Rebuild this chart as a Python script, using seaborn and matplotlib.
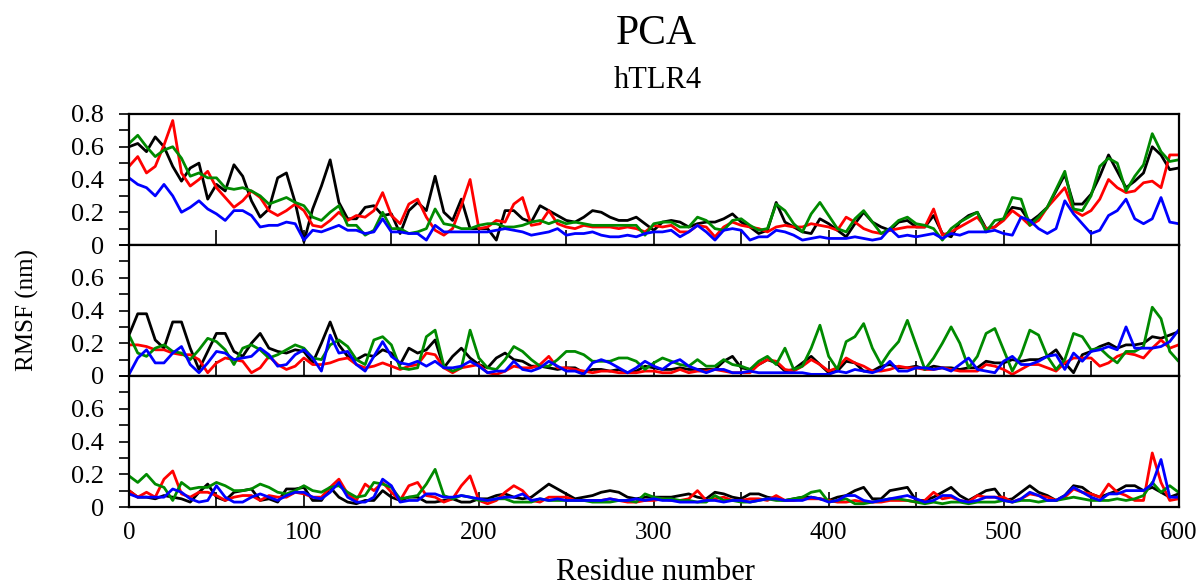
import numpy as np
import pandas as pd
import matplotlib
matplotlib.use("Agg")
import matplotlib.pyplot as plt
import seaborn as sns
from matplotlib.ticker import MultipleLocator, FuncFormatter

# ---------------- data (RMSF in nm, sampled every 5 residues) ----------------
residues = np.arange(0, 601, 5)

top_black = [0.6,0.62,0.57,0.66,0.6,0.48,0.39,0.47,0.5,0.28,0.37,0.33,0.49,0.42,0.27,0.17,0.22,0.41,0.44,0.26,0.02,0.22,0.36,0.52,0.26,0.16,0.16,0.23,0.24,0.18,0.19,
             0.07,0.21,0.26,0.21,0.42,0.2,0.15,0.28,0.1,0.1,0.1,0.03,0.21,0.21,0.16,0.14,0.24,0.21,0.18,0.15,0.14,0.17,0.21,0.2,0.17,0.15,0.15,0.17,0.13,0.09,
             0.14,0.15,0.14,0.11,0.13,0.14,0.14,0.16,0.19,0.14,0.11,0.07,0.09,0.26,0.14,0.11,0.08,0.07,0.16,0.13,0.09,0.05,0.13,0.2,0.14,0.11,0.09,0.14,0.15,0.11,
             0.11,0.18,0.07,0.05,0.14,0.18,0.2,0.1,0.11,0.16,0.23,0.22,0.14,0.18,0.23,0.33,0.43,0.25,0.25,0.31,0.42,0.55,0.45,0.35,0.39,0.44,0.6,0.55,0.46,0.47]
top_red = [0.48,0.54,0.44,0.48,0.61,0.76,0.44,0.36,0.4,0.45,0.35,0.29,0.23,0.27,0.33,0.29,0.21,0.18,0.21,0.25,0.21,0.12,0.11,0.15,0.2,0.15,0.18,0.17,0.21,0.32,0.18,
           0.13,0.25,0.28,0.17,0.09,0.06,0.1,0.24,0.4,0.1,0.11,0.15,0.14,0.25,0.29,0.12,0.13,0.21,0.13,0.11,0.1,0.12,0.11,0.11,0.11,0.1,0.11,0.1,0.08,0.12,
           0.11,0.12,0.08,0.08,0.12,0.11,0.05,0.11,0.14,0.12,0.11,0.1,0.08,0.11,0.12,0.11,0.11,0.13,0.12,0.11,0.09,0.17,0.14,0.1,0.08,0.07,0.09,0.1,0.11,0.11,
           0.11,0.22,0.06,0.08,0.11,0.14,0.17,0.1,0.11,0.15,0.21,0.17,0.12,0.15,0.23,0.29,0.35,0.21,0.18,0.21,0.28,0.4,0.35,0.32,0.33,0.38,0.39,0.35,0.55,0.55]
top_green = [0.62,0.67,0.6,0.54,0.58,0.6,0.53,0.42,0.44,0.41,0.41,0.35,0.34,0.35,0.33,0.3,0.25,0.27,0.29,0.26,0.24,0.17,0.15,0.2,0.24,0.12,0.12,0.06,0.09,0.2,0.1,
             0.1,0.07,0.08,0.1,0.22,0.13,0.12,0.1,0.1,0.12,0.13,0.13,0.11,0.11,0.12,0.14,0.15,0.13,0.15,0.13,0.14,0.13,0.12,0.12,0.12,0.12,0.12,0.12,0.06,0.13,
             0.14,0.14,0.11,0.11,0.17,0.15,0.1,0.09,0.15,0.16,0.12,0.09,0.1,0.25,0.21,0.13,0.08,0.19,0.26,0.18,0.1,0.08,0.16,0.21,0.14,0.07,0.1,0.15,0.17,0.13,
             0.12,0.1,0.03,0.1,0.14,0.17,0.2,0.08,0.15,0.16,0.29,0.28,0.12,0.17,0.23,0.34,0.45,0.22,0.21,0.3,0.48,0.53,0.5,0.33,0.42,0.49,0.68,0.57,0.51,0.52]
top_blue = [0.41,0.37,0.35,0.3,0.37,0.3,0.2,0.23,0.27,0.22,0.19,0.15,0.21,0.21,0.18,0.11,0.12,0.12,0.14,0.13,0.03,0.09,0.08,0.1,0.12,0.09,0.09,0.07,0.08,0.16,0.08,
            0.08,0.07,0.07,0.03,0.12,0.08,0.08,0.08,0.08,0.08,0.08,0.09,0.1,0.09,0.08,0.06,0.07,0.08,0.1,0.06,0.07,0.07,0.08,0.06,0.05,0.05,0.06,0.05,0.07,0.08,
            0.08,0.09,0.05,0.08,0.12,0.08,0.03,0.09,0.1,0.09,0.03,0.05,0.05,0.09,0.08,0.06,0.03,0.04,0.05,0.04,0.04,0.04,0.05,0.04,0.03,0.04,0.1,0.05,0.06,0.05,
            0.06,0.07,0.04,0.07,0.06,0.08,0.08,0.08,0.09,0.07,0.06,0.17,0.15,0.1,0.07,0.1,0.27,0.19,0.13,0.07,0.09,0.18,0.21,0.28,0.16,0.13,0.16,0.29,0.14,0.13]

mid_black = [0.25,0.38,0.38,0.22,0.17,0.33,0.33,0.17,0.04,0.15,0.26,0.26,0.15,0.12,0.2,0.26,0.17,0.15,0.14,0.16,0.15,0.08,0.2,0.33,0.19,0.12,0.1,0.13,0.12,0.16,0.14,
             0.07,0.17,0.14,0.16,0.22,0.05,0.12,0.17,0.11,0.07,0.05,0.11,0.14,0.1,0.09,0.06,0.06,0.05,0.04,0.05,0.05,0.02,0.04,0.04,0.03,0.04,0.02,0.03,0.06,0.05,
             0.04,0.04,0.05,0.04,0.04,0.04,0.04,0.09,0.12,0.05,0.04,0.07,0.1,0.08,0.03,0.04,0.08,0.12,0.07,0.02,0.03,0.09,0.08,0.03,0.03,0.06,0.07,0.05,0.05,0.06,
             0.04,0.06,0.05,0.05,0.04,0.05,0.05,0.09,0.08,0.08,0.1,0.09,0.1,0.1,0.12,0.16,0.08,0.02,0.13,0.15,0.18,0.2,0.17,0.19,0.19,0.2,0.24,0.23,0.25,0.27]
mid_red = [0.19,0.19,0.18,0.16,0.16,0.14,0.13,0.13,0.1,0.02,0.08,0.11,0.1,0.09,0.02,0.05,0.12,0.07,0.04,0.06,0.11,0.07,0.07,0.08,0.1,0.11,0.07,0.05,0.06,0.08,0.06,
           0.04,0.06,0.07,0.14,0.13,0.05,0.02,0.05,0.06,0.07,0.02,0.01,0.03,0.06,0.05,0.05,0.07,0.12,0.05,0.05,0.04,0.03,0.02,0.03,0.03,0.02,0.02,0.02,0.03,0.03,
           0.02,0.02,0.04,0.02,0.03,0.03,0.04,0.03,0.02,0.02,0.02,0.07,0.1,0.09,0.04,0.03,0.06,0.1,0.07,0.03,0.05,0.11,0.08,0.06,0.03,0.03,0.04,0.06,0.05,0.05,
           0.04,0.04,0.05,0.04,0.03,0.03,0.03,0.07,0.06,0.04,0.01,0.04,0.07,0.07,0.05,0.03,0.08,0.11,0.11,0.11,0.06,0.08,0.12,0.14,0.13,0.11,0.17,0.22,0.17,0.19]
mid_green = [0.25,0.14,0.12,0.17,0.19,0.15,0.14,0.1,0.16,0.23,0.21,0.16,0.07,0.17,0.19,0.16,0.11,0.13,0.16,0.19,0.17,0.11,0.1,0.19,0.22,0.18,0.1,0.07,0.22,0.24,0.19,
             0.05,0.04,0.05,0.24,0.28,0.06,0.03,0.05,0.28,0.11,0.05,0.04,0.1,0.18,0.15,0.1,0.06,0.06,0.1,0.15,0.15,0.13,0.09,0.09,0.09,0.11,0.11,0.09,0.04,0.08,
             0.11,0.09,0.07,0.06,0.1,0.06,0.06,0.1,0.07,0.06,0.04,0.09,0.12,0.07,0.17,0.04,0.06,0.17,0.31,0.12,0.04,0.21,0.24,0.32,0.17,0.07,0.15,0.21,0.34,0.19,
             0.04,0.11,0.2,0.3,0.2,0.05,0.12,0.26,0.29,0.16,0.03,0.13,0.28,0.25,0.12,0.04,0.1,0.26,0.24,0.16,0.17,0.12,0.08,0.15,0.15,0.18,0.42,0.35,0.15,0.09]
mid_blue = [0.01,0.11,0.16,0.08,0.08,0.14,0.18,0.07,0.02,0.08,0.15,0.14,0.1,0.11,0.12,0.17,0.13,0.06,0.07,0.13,0.16,0.11,0.03,0.25,0.14,0.15,0.07,0.03,0.12,0.21,0.12,
            0.08,0.07,0.09,0.06,0.09,0.05,0.05,0.06,0.09,0.06,0.02,0.03,0.03,0.09,0.04,0.03,0.05,0.09,0.06,0.03,0.03,0.01,0.08,0.1,0.08,0.05,0.02,0.05,0.09,0.06,
            0.04,0.08,0.1,0.06,0.04,0.02,0.04,0.04,0.02,0.02,0.03,0.02,0.02,0.02,0.02,0.02,0.02,0.01,0.01,0.01,0.03,0.02,0.04,0.03,0.02,0.04,0.09,0.03,0.03,0.05,
            0.05,0.04,0.05,0.03,0.07,0.11,0.04,0.03,0.02,0.09,0.12,0.07,0.07,0.09,0.12,0.13,0.04,0.14,0.09,0.15,0.16,0.18,0.16,0.3,0.17,0.17,0.17,0.18,0.21,0.28]

bot_black = [0.1,0.06,0.06,0.05,0.07,0.06,0.05,0.03,0.09,0.14,0.06,0.04,0.09,0.1,0.11,0.04,0.05,0.03,0.11,0.11,0.12,0.04,0.04,0.12,0.06,0.03,0.02,0.04,0.04,0.1,0.06,
             0.04,0.06,0.06,0.03,0.03,0.04,0.05,0.03,0.03,0.05,0.05,0.07,0.08,0.06,0.05,0.06,0.1,0.14,0.11,0.08,0.05,0.06,0.07,0.09,0.1,0.09,0.06,0.05,0.06,0.06,
             0.06,0.06,0.07,0.08,0.06,0.05,0.09,0.08,0.06,0.05,0.08,0.08,0.06,0.05,0.04,0.05,0.06,0.06,0.05,0.04,0.06,0.07,0.1,0.12,0.05,0.05,0.1,0.11,0.12,0.04,
             0.04,0.06,0.09,0.12,0.07,0.04,0.07,0.1,0.11,0.04,0.05,0.09,0.13,0.09,0.07,0.04,0.07,0.13,0.12,0.08,0.06,0.08,0.1,0.13,0.13,0.1,0.12,0.09,0.06,0.08]
bot_red = [0.1,0.06,0.09,0.06,0.17,0.22,0.08,0.06,0.09,0.09,0.07,0.04,0.06,0.07,0.07,0.04,0.07,0.06,0.06,0.09,0.08,0.06,0.06,0.12,0.17,0.08,0.04,0.14,0.1,0.15,0.09,
           0.04,0.13,0.15,0.07,0.06,0.03,0.05,0.13,0.19,0.04,0.02,0.04,0.09,0.13,0.1,0.04,0.03,0.06,0.06,0.06,0.04,0.04,0.04,0.04,0.05,0.04,0.03,0.03,0.04,0.04,
           0.05,0.04,0.04,0.05,0.1,0.04,0.05,0.06,0.04,0.04,0.05,0.05,0.04,0.07,0.04,0.04,0.05,0.05,0.05,0.04,0.03,0.03,0.04,0.03,0.03,0.03,0.04,0.04,0.04,0.03,
           0.04,0.09,0.05,0.06,0.04,0.03,0.07,0.06,0.06,0.06,0.03,0.05,0.08,0.07,0.06,0.04,0.06,0.11,0.09,0.08,0.06,0.14,0.09,0.07,0.04,0.04,0.33,0.15,0.04,0.05]
bot_green = [0.19,0.15,0.2,0.14,0.12,0.04,0.15,0.11,0.12,0.12,0.15,0.13,0.1,0.1,0.11,0.14,0.12,0.09,0.08,0.1,0.13,0.1,0.09,0.12,0.13,0.09,0.06,0.07,0.15,0.14,0.12,
             0.05,0.06,0.07,0.14,0.23,0.07,0.05,0.07,0.06,0.04,0.04,0.05,0.05,0.03,0.03,0.03,0.05,0.04,0.04,0.04,0.04,0.04,0.03,0.03,0.03,0.04,0.04,0.03,0.08,0.06,
             0.05,0.05,0.04,0.04,0.03,0.03,0.07,0.04,0.04,0.03,0.03,0.04,0.05,0.04,0.04,0.05,0.06,0.09,0.1,0.03,0.04,0.05,0.02,0.02,0.03,0.04,0.05,0.05,0.04,0.03,
             0.02,0.03,0.02,0.03,0.03,0.02,0.03,0.03,0.03,0.04,0.03,0.04,0.04,0.03,0.04,0.04,0.05,0.06,0.05,0.04,0.04,0.04,0.05,0.04,0.05,0.07,0.15,0.09,0.13,0.09]
bot_blue = [0.08,0.06,0.06,0.06,0.06,0.11,0.09,0.05,0.03,0.04,0.13,0.06,0.03,0.03,0.06,0.08,0.06,0.04,0.07,0.09,0.09,0.06,0.05,0.09,0.15,0.06,0.03,0.03,0.06,0.17,0.13,
            0.03,0.04,0.04,0.08,0.08,0.06,0.06,0.07,0.06,0.05,0.04,0.05,0.06,0.06,0.08,0.04,0.05,0.04,0.05,0.04,0.04,0.04,0.04,0.04,0.05,0.04,0.04,0.05,0.04,0.05,
            0.04,0.04,0.03,0.03,0.03,0.04,0.04,0.03,0.04,0.04,0.03,0.04,0.05,0.05,0.04,0.04,0.04,0.06,0.05,0.03,0.04,0.07,0.07,0.04,0.03,0.04,0.05,0.06,0.07,0.05,
            0.03,0.04,0.07,0.07,0.04,0.03,0.04,0.06,0.06,0.04,0.03,0.05,0.09,0.07,0.04,0.04,0.07,0.12,0.09,0.06,0.04,0.08,0.08,0.1,0.1,0.1,0.14,0.29,0.06,0.06]

series_order = ["black", "red", "green", "blue"]
palette = {"black": "#000000", "red": "#ff0000", "green": "#008a00", "blue": "#0000ff"}
panels = [
    {"black": top_black, "red": top_red, "green": top_green, "blue": top_blue},
    {"black": mid_black, "red": mid_red, "green": mid_green, "blue": mid_blue},
    {"black": bot_black, "red": bot_red, "green": bot_green, "blue": bot_blue},
]

# ---------------- figure ----------------
sns.set_theme(style="ticks")
plt.rcParams["font.family"] = ["Liberation Serif", "DejaVu Serif"]
plt.rcParams["axes.linewidth"] = 1.6
for key in ["text.color", "axes.labelcolor", "xtick.color", "ytick.color", "axes.edgecolor"]:
    plt.rcParams[key] = "black"

W, H = 1203, 586
fig = plt.figure(figsize=(W / 100, H / 100), dpi=100)
left = 129 / W
width = (1178.5 - 129) / W
bounds = [(114, 245), (245, 376), (376, 507)]

def ylab(v, pos):
    if abs(v) < 1e-9:
        return "0"
    k = int(round(v * 10))
    return f"{v:.1f}" if k % 2 == 0 else ""

for i, (panel, (t, b)) in enumerate(zip(panels, bounds)):
    ax = fig.add_axes([left, 1 - b / H, width, (b - t) / H])
    df = pd.concat(
        [pd.DataFrame({"Residue": residues, "RMSF": panel[s], "series": s}) for s in series_order],
        ignore_index=True,
    )
    sns.lineplot(data=df, x="Residue", y="RMSF", hue="series", hue_order=series_order,
                 palette=palette, ax=ax, legend=False, linewidth=2.0,
                 estimator=None, sort=False)
    ax.set_xlim(0, 600)
    ax.set_ylim(0, 0.8)
    ax.set_xlabel("")
    ax.set_ylabel("")
    ax.xaxis.set_major_locator(MultipleLocator(100))
    ax.xaxis.set_minor_locator(MultipleLocator(50))
    ax.yaxis.set_major_locator(MultipleLocator(0.1))
    ax.yaxis.set_major_formatter(FuncFormatter(ylab))
    ax.tick_params(axis="x", which="both", direction="in", length=11, width=1.2,
                   labelsize=18, pad=11, bottom=True, top=False,
                   labelbottom=(i == 2), colors="black")
    ax.tick_params(axis="y", which="major", direction="out", length=7, width=1.2,
                   labelsize=19, pad=11, left=True, right=False, colors="black")
    if i > 0:
        ticks = ax.get_yticks()
        labels = ["" if abs(v - 0.8) < 1e-6 else ylab(v, None) for v in ticks]
        ax.set_yticks(ticks)
        ax.set_yticklabels(labels)
        ax.set_ylim(0, 0.8)
    for sp in ax.spines.values():
        sp.set_visible(True)
        sp.set_linewidth(1.6)
        sp.set_color("black")

fig.text(656 / W, 1 - 34 / H, "PCA", ha="center", va="center", fontsize=30, color="black")
fig.text(658 / W, 1 - 81 / H, "hTLR4", ha="center", va="center", fontsize=22, color="black")
fig.text(655 / W, 1 - 572 / H, "Residue number", ha="center", va="center", fontsize=22, color="black")
fig.text(27 / W, 1 - 310 / H, "RMSF (nm)", ha="center", va="center", rotation=90, fontsize=18, color="black")

fig.savefig("out.png", dpi=100)
